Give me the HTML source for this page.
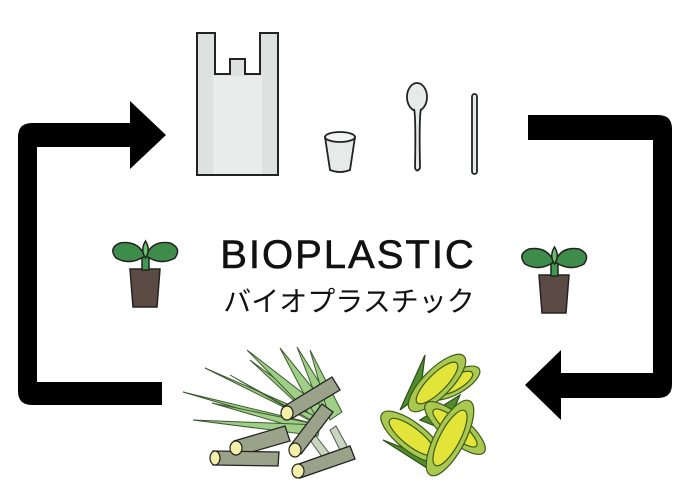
<!DOCTYPE html>
<html><head><meta charset="utf-8"><style>
html,body{margin:0;padding:0;background:#fff}
svg{display:block}
</style></head><body>
<svg width="700" height="495" viewBox="0 0 700 495" xmlns="http://www.w3.org/2000/svg">
<!-- left arrow -->
<path d="M162 405 H32 Q18 405 18 391 V137 Q18 123 32 123 H130 V101 L166 135 L130 169 V147 H37 V382 H162 Z" fill="#000"/>
<!-- right arrow -->
<path d="M528 115 H658 Q672 115 672 129 V384 Q672 398 658 398 H561 V420 L525 385 L561 350 V373 H653 V140 H528 Z" fill="#000"/>
<!-- bag -->
<path d="M197 33 H215 V74 H230 V59 H245 V74 H260 V33 H278 V175 H197 Z" fill="#dde1df" stroke="#222" stroke-width="2"/>
<rect x="213" y="76" width="49" height="98" fill="#e8ecea"/>
<!-- cup -->
<path d="M325 137 L330 170 Q340 174 350 170 L355 137 Z" fill="#e6eae8" stroke="#222" stroke-width="1.8"/>
<ellipse cx="340" cy="137" rx="15" ry="5" fill="#f2f4f3" stroke="#222" stroke-width="1.8"/>
<!-- spoon -->
<ellipse cx="417" cy="97" rx="10" ry="14" fill="#e6eae8" stroke="#222" stroke-width="1.8"/>
<path d="M414 109 Q416 116 415 168 Q417 173 420 168 Q419 116 421 109" fill="#e6eae8" stroke="#222" stroke-width="1.8"/>
<!-- straw -->
<rect x="472" y="94" width="5" height="80" rx="2.5" fill="#e6eae8" stroke="#222" stroke-width="1.8"/>
<!-- seedlings -->
<g stroke="#222" stroke-width="1.5">
<path d="M130 269 L160 269 L157 307 L133 307 Z" fill="#5c4b45"/>
<rect x="142" y="250" width="7" height="20" fill="#3e9a4e"/>
<path d="M145 256 Q130 266 116 258 Q108 248 120 243 Q138 240 145 256 Z" fill="#3e8c4a"/>
<path d="M146 256 Q161 266 175 258 Q182 248 170 243 Q152 240 146 256 Z" fill="#3e8c4a"/>
<path d="M145.5 258 Q140 250 145.5 241 Q151 250 145.5 258Z" fill="#6abf6e"/>
</g>
<g stroke="#222" stroke-width="1.5" transform="translate(409,6)">
<path d="M130 269 L160 269 L157 307 L133 307 Z" fill="#5c4b45"/>
<rect x="142" y="250" width="7" height="20" fill="#3e9a4e"/>
<path d="M145 256 Q130 266 116 258 Q108 248 120 243 Q138 240 145 256 Z" fill="#3e8c4a"/>
<path d="M146 256 Q161 266 175 258 Q182 248 170 243 Q152 240 146 256 Z" fill="#3e8c4a"/>
<path d="M145.5 258 Q140 250 145.5 241 Q151 250 145.5 258Z" fill="#6abf6e"/>
</g>
<!-- text -->
<text x="348" y="268" text-anchor="middle" font-family="Liberation Sans, sans-serif" font-size="40" letter-spacing="2" stroke="#111" stroke-width="0.6" fill="#111">BIOPLASTIC</text>
<text x="349" y="311" text-anchor="middle" font-family="Liberation Sans, 'Noto Sans CJK JP', sans-serif" font-size="28" fill="#111">バイオプラスチック</text>
<!-- sugarcane leaves -->
<g fill="#9fcf86" stroke="#3e5a30" stroke-width="1">
<path d="M320 425 L250 360 L326 416 Z"/>
<path d="M320 425 L247 350 L330 414 Z"/>
<path d="M320 425 L280 348 L332 412 Z"/>
<path d="M325 420 L297 347 L338 412 Z"/>
<path d="M330 420 L310 350 L342 412 Z"/>
<path d="M320 425 L183 392 L318 432 Z"/>
<path d="M320 425 L205 368 L324 420 Z"/>
<path d="M320 425 L212 403 L318 434 Z"/>
<path d="M320 425 L193 420 L318 436 Z"/>
<path d="M320 425 L230 375 L322 428 Z"/>
</g>
<g fill="#c8d6bd" stroke="#555" stroke-width="1">
<path d="M330 430 L345 460 L352 455 L336 426Z"/>
<path d="M310 440 L330 468 L336 462 L316 436Z"/>
</g>
<!-- canes -->
<g fill="#9aa38a" stroke="#222" stroke-width="1.3">
<path d="M283 407 L332 377 L340 390 L291 419 Z"/>
<path d="M234 441 L285 426 L290 441 L238 456 Z"/>
<path d="M213 451 L279 452 L278 466 L213 465 Z"/>
<path d="M290 446 L322 404 L333 412 L301 454 Z"/>
<path d="M296 465 L350 446 L355 459 L300 478 Z"/>
</g>
<g fill="#f3efa8" stroke="#222" stroke-width="1.2">
<ellipse cx="287" cy="413" rx="6" ry="7"/>
<ellipse cx="236" cy="448" rx="6" ry="7"/>
<ellipse cx="215" cy="458" rx="5" ry="7"/>
<ellipse cx="295" cy="450" rx="6" ry="7"/>
<ellipse cx="298" cy="471" rx="6" ry="7"/>
</g>
<!-- corn -->
<g stroke="#2f4a1a" stroke-width="1.2" fill="#4f8e2a">
<path d="M400 410 L425 355 L420 395 Z"/>
<path d="M383 440 L440 462 L430 470 Z"/>
<path d="M420 420 L460 395 L445 430 Z"/>
</g>
<g stroke="#3f5a1a" stroke-width="1.2">
<ellipse cx="455" cy="383" rx="28" ry="11" transform="rotate(-30 455 383)" fill="#a8c850"/>
<ellipse cx="455" cy="383" rx="20" ry="7" transform="rotate(-30 455 383)" fill="#e2e43a"/>
<ellipse cx="437" cy="383" rx="38" ry="14" transform="rotate(-45 437 383)" fill="#a8c850"/>
<ellipse cx="437" cy="383" rx="28" ry="9" transform="rotate(-45 437 383)" fill="#e2e43a"/>
<ellipse cx="412" cy="437" rx="38" ry="14" transform="rotate(38 412 437)" fill="#a8c850"/>
<ellipse cx="412" cy="437" rx="28" ry="9" transform="rotate(38 412 437)" fill="#e2e43a"/>
<ellipse cx="455" cy="428" rx="38" ry="13" transform="rotate(40 455 428)" fill="#a8c850"/>
<ellipse cx="455" cy="428" rx="28" ry="8" transform="rotate(40 455 428)" fill="#e2e43a"/>
<ellipse cx="450" cy="438" rx="42" ry="15" transform="rotate(-62 450 438)" fill="#a8c850"/>
<ellipse cx="450" cy="438" rx="31" ry="10" transform="rotate(-62 450 438)" fill="#e2e43a"/>
</g>
</svg>
</body></html>
